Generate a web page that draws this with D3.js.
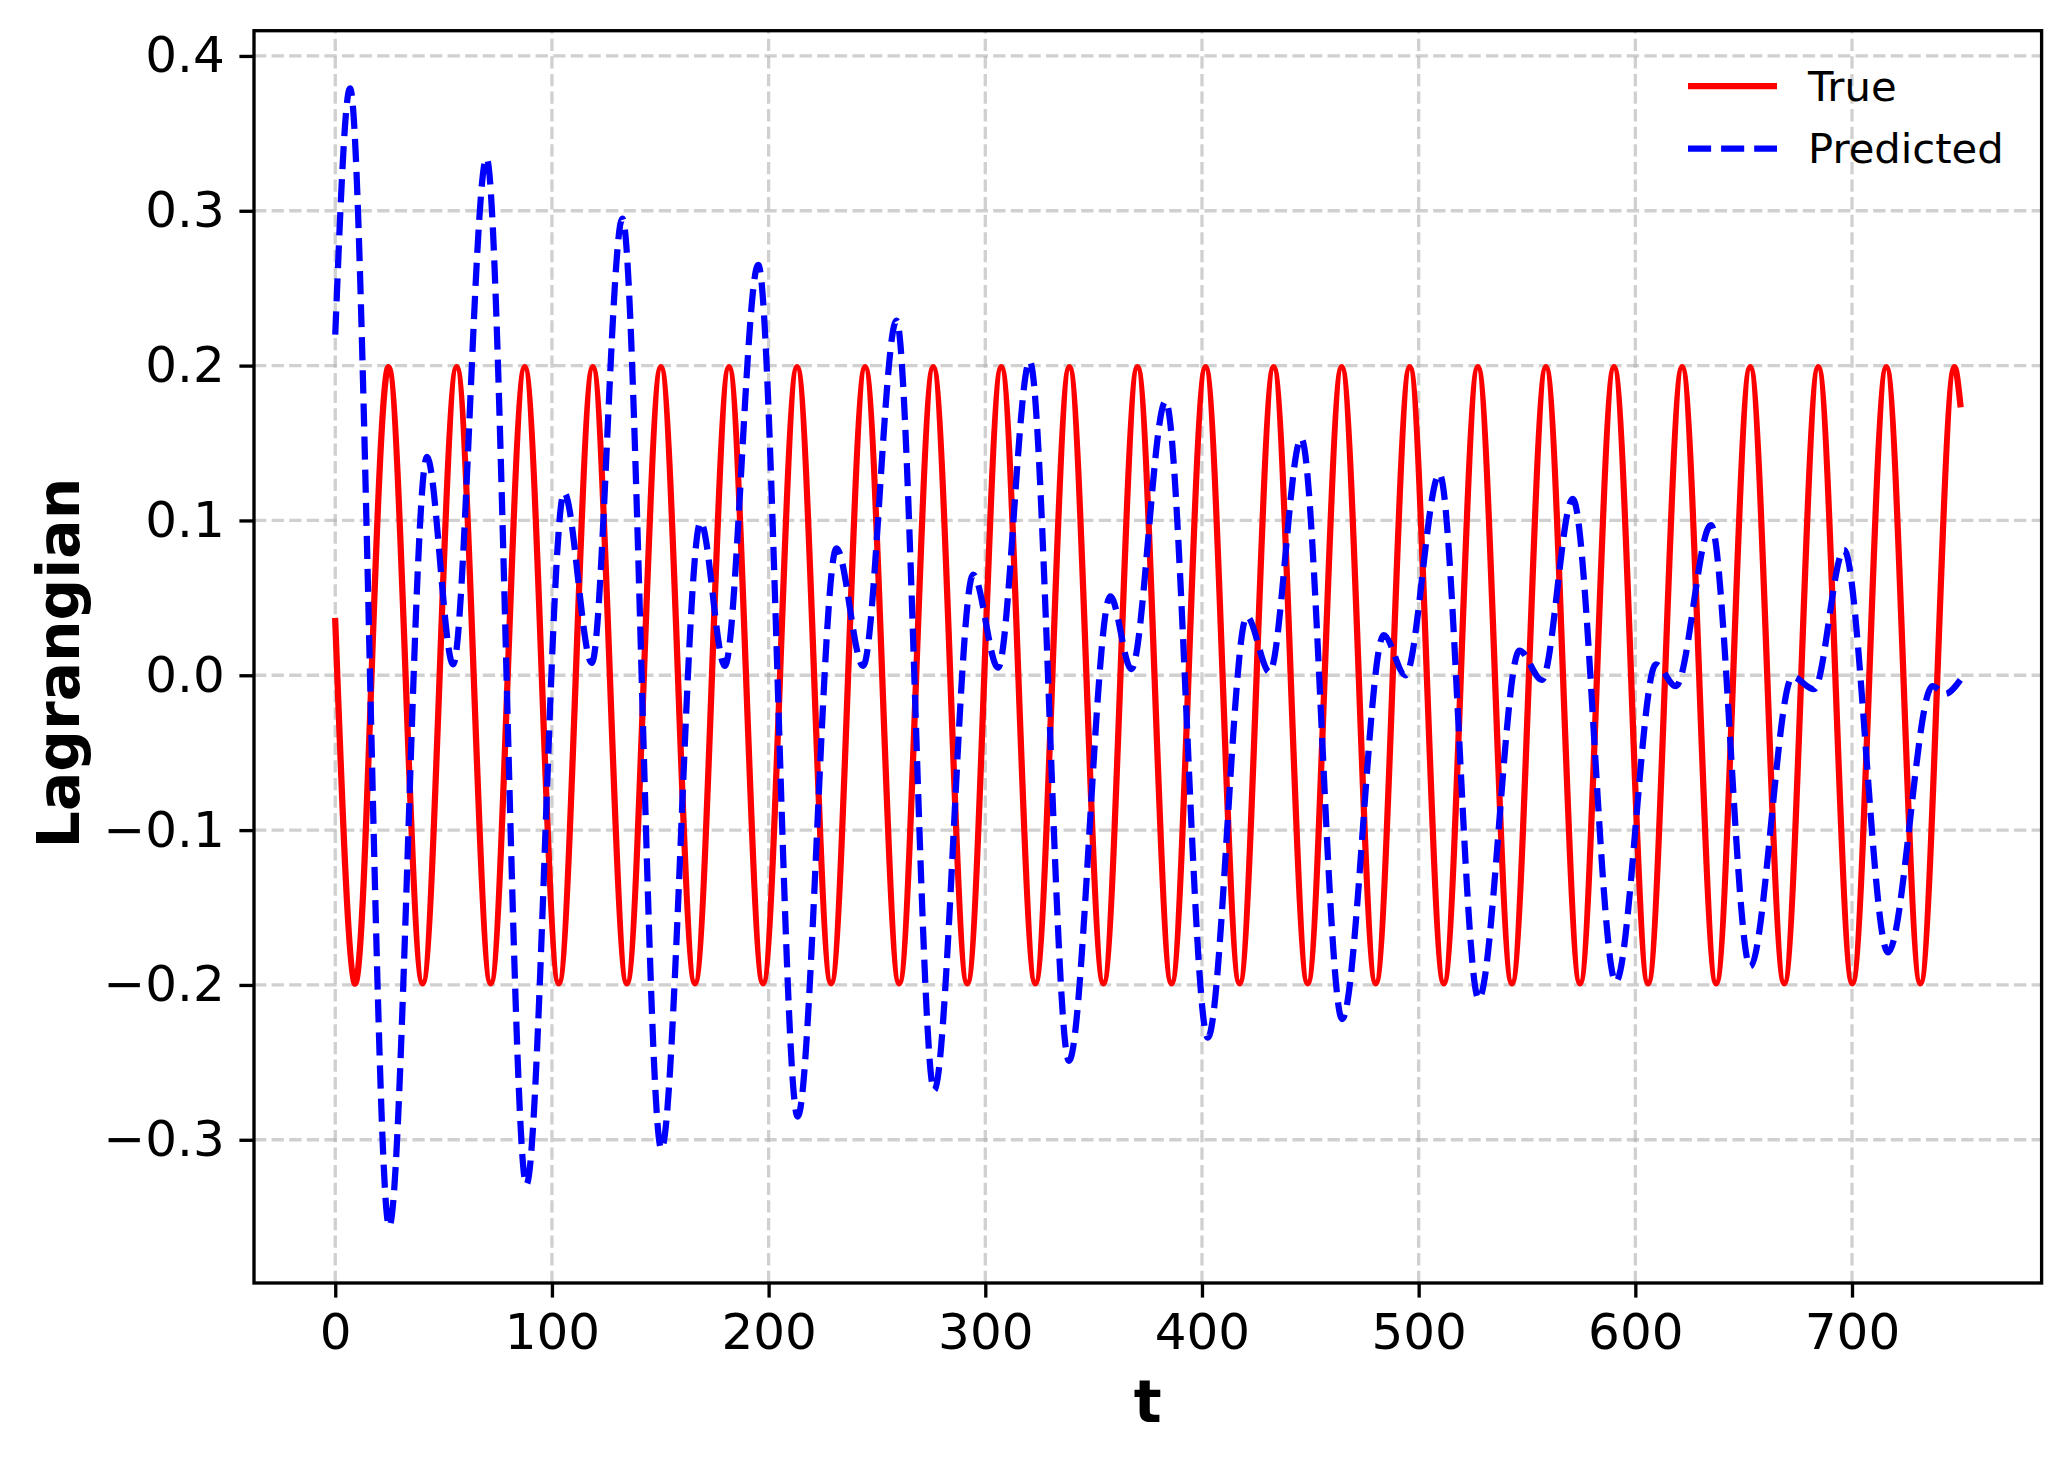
<!DOCTYPE html>
<meta charset="utf-8" />

<!-- Load d3.js -->
<script src="https://d3js.org/d3.v7.min.js"></script>

<style>
  body { margin: 0; background: #fff; }
  text { font-family: "DejaVu Sans", sans-serif; }
</style>

<div id="chart"></div>

<script>
  // True series: troughs, zero crossings and peaks
  const trueT = [
    0,
    8.9, 16.75, 24.6, 32.46, 40.32, 48.18, 56.03, 63.89,
    71.74, 79.6, 87.45, 95.31, 103.16, 111.02, 118.87, 126.73,
    134.58, 142.44, 150.29, 158.15, 166.0, 173.86, 181.71, 189.57,
    197.42, 205.28, 213.13, 220.99, 228.84, 236.7, 244.55, 252.41,
    260.26, 268.12, 275.97, 283.83, 291.68, 299.54, 307.39, 315.25,
    323.1, 330.96, 338.81, 346.67, 354.52, 362.38, 370.23, 378.09,
    385.94, 393.8, 401.65, 409.51, 417.36, 425.22, 433.07, 440.93,
    448.78, 456.64, 464.49, 472.35, 480.2, 488.06, 495.91, 503.77,
    511.62, 519.48, 527.33, 535.19, 543.04, 550.9, 558.75, 566.61,
    574.46, 582.32, 590.17, 598.03, 605.88, 613.74, 621.59, 629.45,
    637.3, 645.16, 653.01, 660.87, 668.72, 676.58, 684.43, 692.29,
    700.14, 708.0, 715.85, 723.71, 731.56, 739.42, 747.27,
    750
  ];
  const trueL = [
    0.035,
    -0.199, 0, 0.199, 0, -0.199, 0, 0.199, 0,
    -0.199, 0, 0.199, 0, -0.199, 0, 0.199, 0,
    -0.199, 0, 0.199, 0, -0.199, 0, 0.199, 0,
    -0.199, 0, 0.199, 0, -0.199, 0, 0.199, 0,
    -0.199, 0, 0.199, 0, -0.199, 0, 0.199, 0,
    -0.199, 0, 0.199, 0, -0.199, 0, 0.199, 0,
    -0.199, 0, 0.199, 0, -0.199, 0, 0.199, 0,
    -0.199, 0, 0.199, 0, -0.199, 0, 0.199, 0,
    -0.199, 0, 0.199, 0, -0.199, 0, 0.199, 0,
    -0.199, 0, 0.199, 0, -0.199, 0, 0.199, 0,
    -0.199, 0, 0.199, 0, -0.199, 0, 0.199, 0,
    -0.199, 0, 0.199, 0, -0.199, 0, 0.199,
    0.175
  ];

  // Predicted series: local maxima / minima
  const predT = [
    0, 6.8, 24.9, 42.3, 54.4, 69.8, 88.2, 105.6, 118.4, 132.5,
    150.5, 168.6, 179.8, 195.2, 213.4, 231.3, 243.6, 259.0, 276.4, 294.4,
    305.9, 320.5, 338.6, 357.7, 367.4, 383.2, 402.7, 420.7, 431.2, 445.8,
    464.7, 483.9, 493.9, 509.6, 527.7, 546.5, 556.9, 571.1, 591.0, 609.5,
    618.7, 634.9, 653.0, 672.5, 682.5, 696.3, 716.6, 737.1, 743.0, 750
  ];
  const predL = [
    0.220, 0.379, -0.356, 0.141, 0.007, 0.334, -0.329, 0.118, 0.008, 0.295,
    -0.306, 0.099, 0.006, 0.265, -0.285, 0.082, 0.006, 0.229, -0.268, 0.065,
    0.005, 0.203, -0.249, 0.051, 0.004, 0.177, -0.234, 0.038, 0.002, 0.153,
    -0.222, 0.026, 0.000, 0.130, -0.209, 0.016, -0.003, 0.114, -0.198, 0.007,
    -0.007, 0.097, -0.188, -0.001, -0.009, 0.081, -0.179, -0.007, -0.012, -0.003
  ];

  const xTicks = [0, 100, 200, 300, 400, 500, 600, 700];
  const yTicks = [-0.3, -0.2, -0.1, 0.0, 0.1, 0.2, 0.3, 0.4];
  const seriesNames = ["True", "Predicted"];

  // Figure size and plot box
  const W = 2070, H = 1464;
  const margin = { top: 30.7, right: 28.4, bottom: 181, left: 254 },
    width = W - margin.left - margin.right,
    height = H - margin.top - margin.bottom;

  const svg = d3
    .select("#chart")
    .append("svg")
    .attr("width", W)
    .attr("height", H)
    .append("g")
    .attr("transform", `translate(${margin.left}, ${margin.top})`);

  const x = d3.scaleLinear().domain([-37.5, 787.5]).range([0, width]);
  const y = d3.scaleLinear().domain([-0.3925, 0.4163]).range([height, 0]);

  // Grid
  const grid = svg
    .append("g")
    .attr("stroke", "#b0b0b0")
    .attr("stroke-opacity", 0.6)
    .attr("stroke-width", 3.33)
    .attr("stroke-dasharray", "12.3 5.3");

  grid
    .selectAll("line.vx")
    .data(xTicks)
    .join("line")
    .attr("class", "vx")
    .attr("x1", (d) => x(d))
    .attr("x2", (d) => x(d))
    .attr("y1", height)
    .attr("y2", 0);

  grid
    .selectAll("line.hy")
    .data(yTicks)
    .join("line")
    .attr("class", "hy")
    .attr("x1", 0)
    .attr("x2", width)
    .attr("y1", (d) => y(d))
    .attr("y2", (d) => y(d));

  // Lines
  const trueData = trueT.map((t, i) => [t, trueL[i]]);
  const predData = predT.map((t, i) => [t, predL[i]]);

  const lineNatural = d3
    .line()
    .x((d) => x(d[0]))
    .y((d) => y(d[1]))
    .curve(d3.curveNatural);
  const lineMono = d3
    .line()
    .x((d) => x(d[0]))
    .y((d) => y(d[1]))
    .curve(d3.curveMonotoneX);

  // natural spline up to the last zero crossing, monotone for the short tail
  const split = trueData.length - 3;
  const trueD =
    lineNatural(trueData.slice(0, split + 1)) +
    lineMono(trueData.slice(split)).replace(/^M/, "L");

  svg
    .append("path")
    .attr("fill", "none")
    .attr("stroke", "#ff0000")
    .attr("stroke-width", 6.25)
    .attr("stroke-linejoin", "round")
    .attr("stroke-linecap", "square")
    .attr("d", trueD);

  svg
    .append("path")
    .datum(predData)
    .attr("fill", "none")
    .attr("stroke", "#0000ff")
    .attr("stroke-width", 6.25)
    .attr("stroke-linejoin", "round")
    .attr("stroke-dasharray", "23.1 10")
    .attr("d", lineMono);

  // Axes
  const xAxis = svg
    .append("g")
    .attr("transform", `translate(0, ${height})`)
    .call(d3.axisBottom(x).tickValues(xTicks).tickSize(14.6).tickPadding(16).tickSizeOuter(0));

  const yAxis = svg
    .append("g")
    .call(
      d3
        .axisLeft(y)
        .tickValues(yTicks)
        .tickFormat(d3.format(".1f"))
        .tickSize(14.6)
        .tickPadding(14.6)
        .tickSizeOuter(0)
    );

  [xAxis, yAxis].forEach((a) => {
    a.select(".domain").remove();
    a.selectAll(".tick line").attr("stroke", "#000").attr("stroke-width", 3.33);
    a.selectAll(".tick text")
      .attr("fill", "#000")
      .style("font-size", "50px")
      .style("font-family", "DejaVu Sans");
  });

  // Frame
  svg
    .append("rect")
    .attr("width", width)
    .attr("height", height)
    .attr("fill", "none")
    .attr("stroke", "#000")
    .attr("stroke-width", 3.33);

  // Axis labels
  svg
    .append("text")
    .attr("x", width / 2)
    .attr("y", 1422 - margin.top)
    .attr("text-anchor", "middle")
    .style("font-size", "58.3px")
    .style("font-weight", "bold")
    .text("t");

  svg
    .append("text")
    .attr("transform", `translate(${79.3 - margin.left}, ${663 - margin.top}) rotate(-90)`)
    .attr("text-anchor", "middle")
    .style("font-size", "58.3px")
    .style("font-weight", "bold")
    .text("Lagrangian");

  // Legend (no frame)
  const legend = svg
    .append("g")
    .attr("transform", `translate(${1688 - margin.left}, ${86 - margin.top})`)
    .selectAll("g")
    .data(seriesNames)
    .join("g")
    .attr("transform", (d, i) => `translate(0, ${i * 62.7})`);

  legend
    .append("line")
    .attr("x1", 0)
    .attr("x2", 89)
    .attr("stroke", (d, i) => (i === 0 ? "#ff0000" : "#0000ff"))
    .attr("stroke-width", 6.25)
    .attr("stroke-dasharray", (d, i) => (i === 0 ? null : "23.1 10"));

  legend
    .append("text")
    .attr("x", 120)
    .attr("dy", "0.35em")
    .style("font-size", "41.7px")
    .text((d) => d);
</script>
